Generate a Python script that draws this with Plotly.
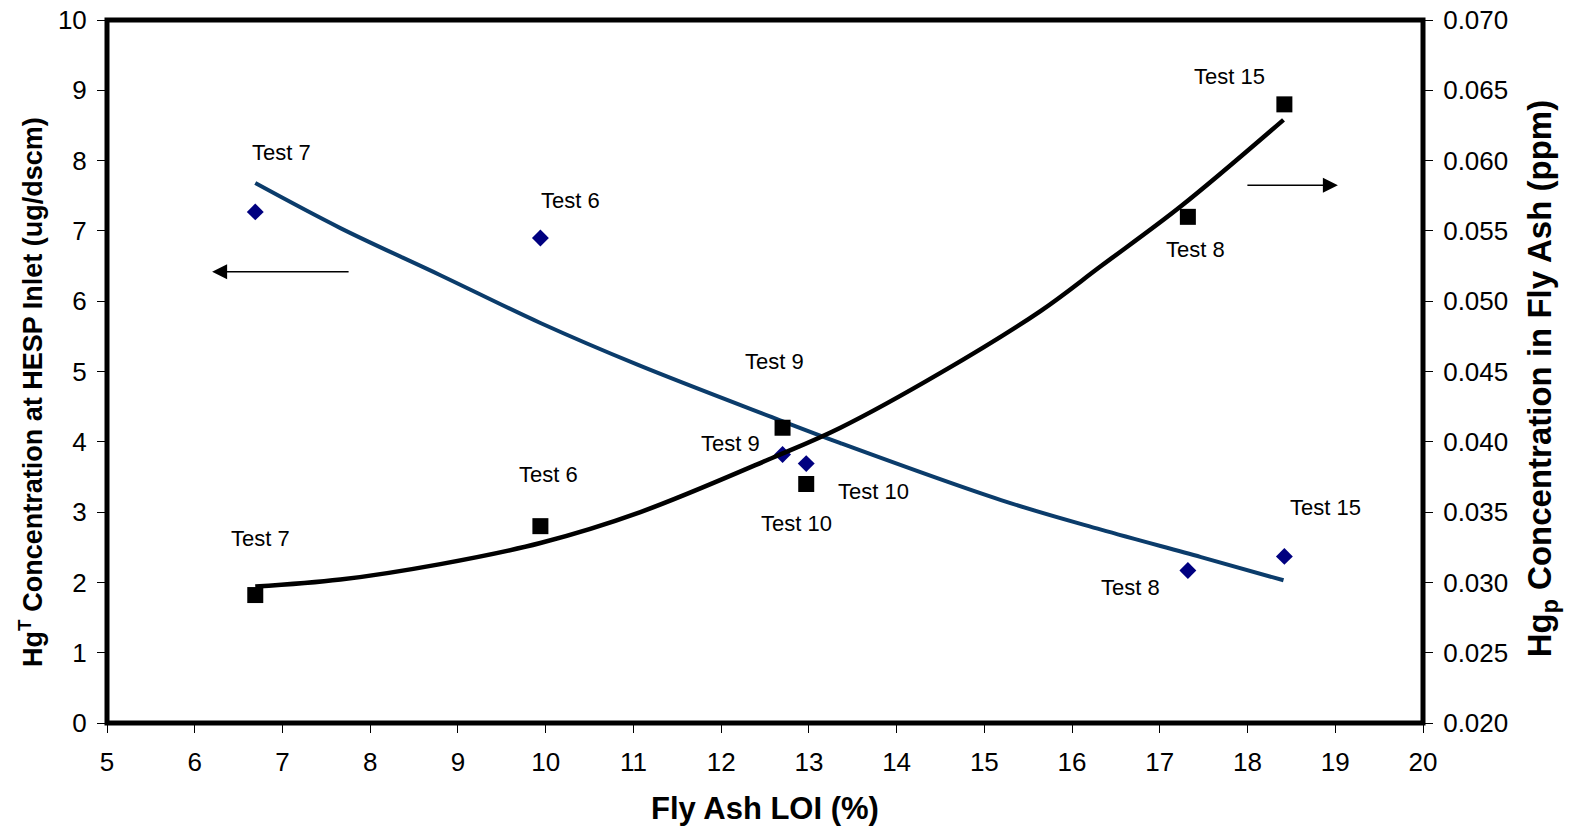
import plotly.graph_objects as go

# ---- data ----
tests = ["Test 7", "Test 6", "Test 9", "Test 10", "Test 8", "Test 15"]
loi = [6.69, 9.94, 12.70, 12.97, 17.32, 18.42]              # Fly Ash LOI (%)
hg_t = [7.27, 6.90, 3.82, 3.69, 2.17, 2.37]                  # ug/dscm (left axis)
hg_p = [0.0291, 0.0340, 0.0410, 0.0370, 0.0560, 0.0640]     # ppm (right axis)

# trend lines
trend_t_x = [6.69, 7.66, 8.80, 9.94, 11.06, 12.60, 13.36, 15.19, 16.33, 17.47, 18.41]
trend_t_y = [7.68, 7.04, 6.37, 5.69, 5.09, 4.34, 3.98, 3.17, 2.75, 2.36, 2.03]
trend_p_x = [6.69, 7.66, 8.80, 9.94, 11.08, 12.60, 13.36, 14.50, 15.64, 16.33, 17.24, 18.41]
trend_p_y = [0.0297, 0.0302, 0.0313, 0.0328, 0.0350, 0.0389, 0.0410, 0.0449, 0.0493,
             0.0525, 0.05675, 0.0629]

x_ticks = list(range(5, 21))
y_ticks = list(range(0, 11))
y2_ticks = [0.020, 0.025, 0.030, 0.035, 0.040, 0.045, 0.050, 0.055, 0.060, 0.065, 0.070]

FONT = "Liberation Sans, Arial, sans-serif"

fig = go.Figure()
fig.add_trace(go.Scatter(x=trend_t_x, y=trend_t_y, mode="lines", yaxis="y",
                         line=dict(color="#0B3C6B", width=4, shape="spline"),
                         hoverinfo="skip", showlegend=False))
fig.add_trace(go.Scatter(x=trend_p_x, y=trend_p_y, mode="lines", yaxis="y2",
                         line=dict(color="#000000", width=4.5, shape="spline"),
                         hoverinfo="skip", showlegend=False))
fig.add_trace(go.Scatter(x=loi, y=hg_t, mode="markers", yaxis="y", text=tests,
                         marker=dict(symbol="diamond", size=13, color="#000080"),
                         showlegend=False))
fig.add_trace(go.Scatter(x=loi, y=hg_p, mode="markers", yaxis="y2", text=tests,
                         marker=dict(symbol="square", size=16, color="#000000"),
                         showlegend=False))

# point labels (positions in left-axis units)
label_pos = [
    ("Test 7", 6.985, 8.11), ("Test 6", 10.28, 7.43), ("Test 9", 12.11, 3.98),
    ("Test 10", 13.74, 3.29), ("Test 8", 16.67, 1.93), ("Test 15", 18.89, 3.06),
    ("Test 7", 6.745, 2.62), ("Test 6", 10.03, 3.54), ("Test 9", 12.61, 5.14),
    ("Test 10", 12.86, 2.84), ("Test 8", 17.41, 6.74), ("Test 15", 17.79, 9.19),
]
ann = []
for t, ax_, ay_ in label_pos:
    ann.append(dict(text=t, x=ax_, y=ay_, xref="x", yref="y", showarrow=False,
                    xanchor="center", yanchor="middle",
                    font=dict(family=FONT, size=22, color="#000000")))

# direction arrows
ann.append(dict(text="", x=6.198, y=6.42, xref="x", yref="y", showarrow=True,
                ax=138, ay=0, arrowhead=2, arrowsize=2, arrowwidth=1.5,
                arrowcolor="#000000"))
ann.append(dict(text="", x=19.03, y=7.65, xref="x", yref="y", showarrow=True,
                ax=-92, ay=0, arrowhead=2, arrowsize=2, arrowwidth=1.5,
                arrowcolor="#000000"))

# axis titles
ann.append(dict(text="<b>Fly Ash LOI (%)</b>", x=0.5, y=0, xref="paper", yref="paper",
                xanchor="center", yanchor="middle", yshift=-85, showarrow=False,
                font=dict(family=FONT, size=31, color="#000000")))
ann.append(dict(text="<b>Hg<sup>T</sup> Concentration at HESP Inlet (ug/dscm)</b>",
                x=0, y=0.471, xref="paper", yref="paper", textangle=-90,
                xanchor="center", yanchor="middle", xshift=-76, showarrow=False,
                font=dict(family=FONT, size=27, color="#000000")))
ann.append(dict(text="<b>Hg<sub>p</sub> Concentration in Fly Ash (ppm)</b>",
                x=1, y=0.489, xref="paper", yref="paper", textangle=-90,
                xanchor="center", yanchor="middle", xshift=119, showarrow=False,
                font=dict(family=FONT, size=33, color="#000000")))

tick_font = dict(family=FONT, size=26, color="#000000")
fig.update_layout(
    width=1574, height=831,
    margin=dict(l=107, r=151, t=20, b=108, autoexpand=False),
    paper_bgcolor="white", plot_bgcolor="white",
    font=dict(family=FONT, color="#000000"),
    xaxis=dict(range=[5, 20], tickvals=x_ticks, ticks="outside", ticklen=9,
               tickcolor="#000000", tickwidth=1, showgrid=False, zeroline=False,
               showline=False, tickfont=tick_font, automargin=False,
               ticklabelstandoff=7),
    yaxis=dict(range=[0, 10], tickvals=y_ticks, ticks="outside", ticklen=9,
               tickcolor="#000000", tickwidth=1, showgrid=False, zeroline=False,
               showline=False, tickfont=tick_font, automargin=False,
               ticklabelstandoff=5),
    yaxis2=dict(range=[0.020, 0.070], tickvals=y2_ticks, tickformat=".3f",
                overlaying="y", side="right", ticks="outside", ticklen=9,
                tickcolor="#000000", tickwidth=1, showgrid=False, zeroline=False,
                showline=False, tickfont=tick_font, automargin=False,
                ticklabelstandoff=5),
    annotations=ann,
    shapes=[dict(type="rect", xref="paper", yref="paper", x0=0, y0=0, x1=1, y1=1,
                 line=dict(color="#000000", width=5), layer="above")],
    showlegend=False,
)

# remove the browser's default 8px body margin so the figure sits at the page origin
fig.write_html("out.html", config={"displayModeBar": False},
               post_script="document.body.style.margin='0';document.body.style.overflow='hidden';")
